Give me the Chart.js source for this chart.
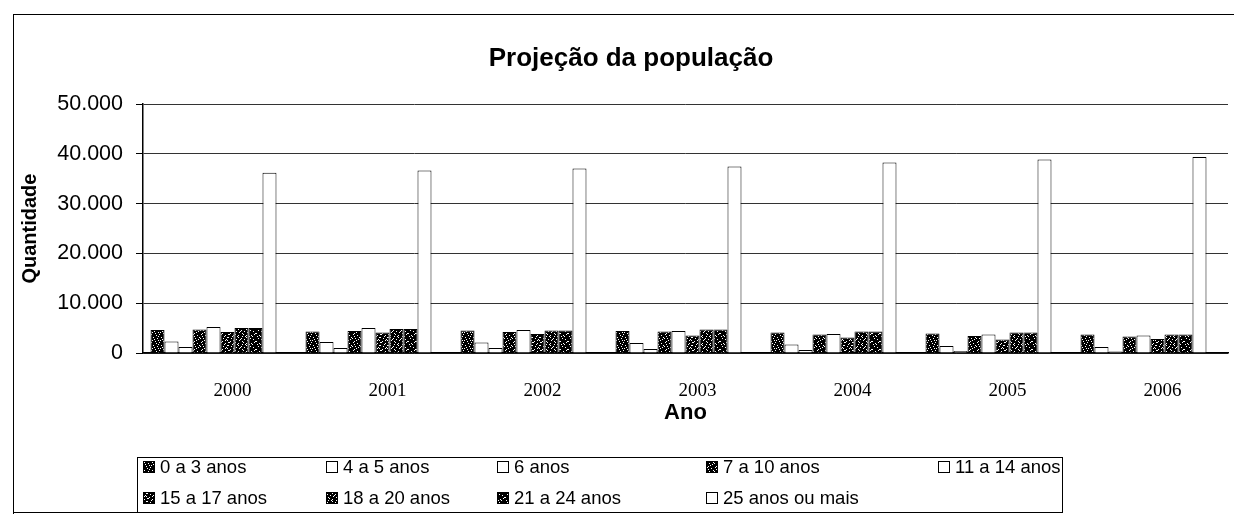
<!DOCTYPE html>
<html><head><meta charset="utf-8">
<script src="https://cdn.jsdelivr.net/npm/chart.js@4/dist/chart.umd.min.js"></script>
<style>
html,body{margin:0;padding:0;background:#fff;width:1234px;height:524px;overflow:hidden}
#wrap{position:absolute;left:0;top:0;width:1234px;height:524px}
#frame{position:absolute;left:13px;top:14px;width:1240px;height:500px;border-left:1.5px solid #000;border-top:1.5px solid #000;box-sizing:border-box}
#bottomline{position:absolute;left:13px;top:512px;width:802px;height:0;border-top:1.5px solid #000}
#c{position:absolute;left:0;top:0}
#legend{position:absolute;left:137px;top:457px;width:926px;height:56px;border:1px solid #000;box-sizing:border-box;font-family:"Liberation Sans",Arial,sans-serif;font-size:18.5px;color:#000;background:#fff}
.item{position:absolute;display:flex;align-items:center;white-space:nowrap;height:22px}
.item canvas{margin-right:5px}
</style></head>
<body><div id="wrap"><div id="frame"></div><canvas id="c" width="1234" height="524"></canvas><div id="legend"></div><div id="bottomline"></div></div>
<script>
// ---- data ----
const years = ['2000','2001','2002','2003','2004','2005','2006'];
const seriesNames = ['0 a 3 anos','4 a 5 anos','6 anos','7 a 10 anos','11 a 14 anos','15 a 17 anos','18 a 20 anos','21 a 24 anos','25 anos ou mais'];
const age0a3   = [4600, 4300, 4500, 4400, 4100, 3900, 3700];
const age4a5   = [2300, 2200, 2100, 2000, 1700, 1400, 1200];
const age6     = [1200, 1000, 1000,  800,  600,  400,  300];
const age7a10  = [4700, 4400, 4200, 4300, 3700, 3400, 3300];
const age11a14 = [5200, 5000, 4600, 4400, 3800, 3700, 3500];
const age15a17 = [4200, 4100, 3800, 3500, 3100, 2700, 2800];
const age18a20 = [5000, 4800, 4500, 4700, 4300, 4100, 3700];
const age21a24 = [5000, 4800, 4500, 4700, 4300, 4100, 3700];
const age25mais= [36200, 36700, 37100, 37500, 38300, 38900, 39400];
const yTickLabels = ['0','10.000','20.000','30.000','40.000','50.000'];
const seriesValues = [age0a3, age4a5, age6, age7a10, age11a14, age15a17, age18a20, age21a24, age25mais];

// ---- styles ----
function makePattern(mask){
  const c=document.createElement('canvas'); c.width=8; c.height=8;
  const g=c.getContext('2d'); g.fillStyle='#000'; g.fillRect(0,0,8,8);
  g.fillStyle='#fff'; mask.forEach(p=>g.fillRect(p[0],p[1],1,1));
  return g.createPattern(c,'repeat');
}
const m1=[[1,1],[5,2],[3,5],[7,6],[0,4],[2,3],[6,0],[4,7],[6,4]];
const m2=[[2,0],[6,3],[1,6],[4,4],[5,7],[3,2],[0,2],[7,1],[2,5]];
const m3=[[0,0],[4,1],[2,3],[6,5],[1,7],[5,6],[3,4],[7,2],[4,6],[1,4],[3,1]];
const m4=[[1,2],[5,0],[3,6],[7,4],[2,5],[6,7],[0,3],[4,3],[6,1],[2,0]];
const m5=[[2,2],[6,6],[4,0],[0,5],[3,7],[5,3],[1,0],[7,5]];
const fills=[makePattern(m1),'#fff','#fff',makePattern(m2),'#fff',makePattern(m3),makePattern(m4),makePattern(m5),'#fff'];

const datasets = seriesNames.map((n,i)=>({
  label:n, data:seriesValues[i], backgroundColor:fills[i], borderColor:'#000', borderWidth:1,
  categoryPercentage:0.903, barPercentage:1.0
}));
// empty slot after the last series (keeps each cluster left of its category centre, as in the original)
datasets.push({label:'', data:years.map(()=>null), backgroundColor:'rgba(0,0,0,0)', borderWidth:0,
  categoryPercentage:0.903, barPercentage:1.0, spacer:true});

const FONT='"Liberation Sans", Arial, sans-serif';
const chart = new Chart(document.getElementById('c'), {
  type:'bar',
  data:{labels:years, datasets},
  options:{
    responsive:false, animation:false, devicePixelRatio:1,
    layout:{padding:{left:34,right:6,top:14,bottom:96}},
    plugins:{
      legend:{display:false}, tooltip:{enabled:false},
      title:{display:true, text:'Projeção da população', color:'#000',
        font:{family:FONT,size:26,weight:'bold'}, padding:{top:29,bottom:30}}
    },
    scales:{
      x:{
        grid:{display:false, drawTicks:false},
        border:{display:true,color:'#000',width:1.5},
        ticks:{color:'#000',font:{family:'"Liberation Serif", "Times New Roman", serif',size:19},padding:27,labelOffset:12,maxRotation:0},
        title:{display:true,text:'Ano',color:'#000',font:{family:FONT,size:22,weight:'bold'},padding:{top:0,bottom:2}},
        afterFit:s=>{s.height=75;}
      },
      y:{
        min:0,max:50000,
        grid:{color:'#333',lineWidth:1,drawTicks:true,tickLength:7,tickColor:'#000'},
        border:{display:true,color:'#000',width:1.5},
        ticks:{stepSize:10000,color:'#000',font:{family:FONT,size:21.5},padding:13,
          callback:v=>yTickLabels[Math.round(v/10000)]},
        title:{display:true,text:'Quantidade',color:'#000',font:{family:FONT,size:20,weight:'bold'},padding:{top:-16,bottom:0}},
        afterFit:s=>{s.width=109;}
      }
    }
  }
});

// ---- legend (grid like the original) ----
const colX=[5,188,359,568,800];
const rowY=[-2,29];
const leg=document.getElementById('legend');
chart.data.datasets.filter(d=>!d.spacer).forEach((ds,i)=>{
  const r=i<5?0:1, c=i<5?i:i-5;
  const it=document.createElement('div'); it.className='item';
  it.style.left=colX[c]+'px'; it.style.top=rowY[r]+'px';
  const sw=document.createElement('canvas'); sw.width=12; sw.height=12;
  const g=sw.getContext('2d'); g.fillStyle=ds.backgroundColor; g.fillRect(0,0,12,12);
  g.strokeStyle='#000'; g.lineWidth=1; g.strokeRect(0.5,0.5,11,11);
  const t=document.createElement('span'); t.textContent=ds.label;
  it.appendChild(sw); it.appendChild(t); leg.appendChild(it);
});
</script>
</body></html>
